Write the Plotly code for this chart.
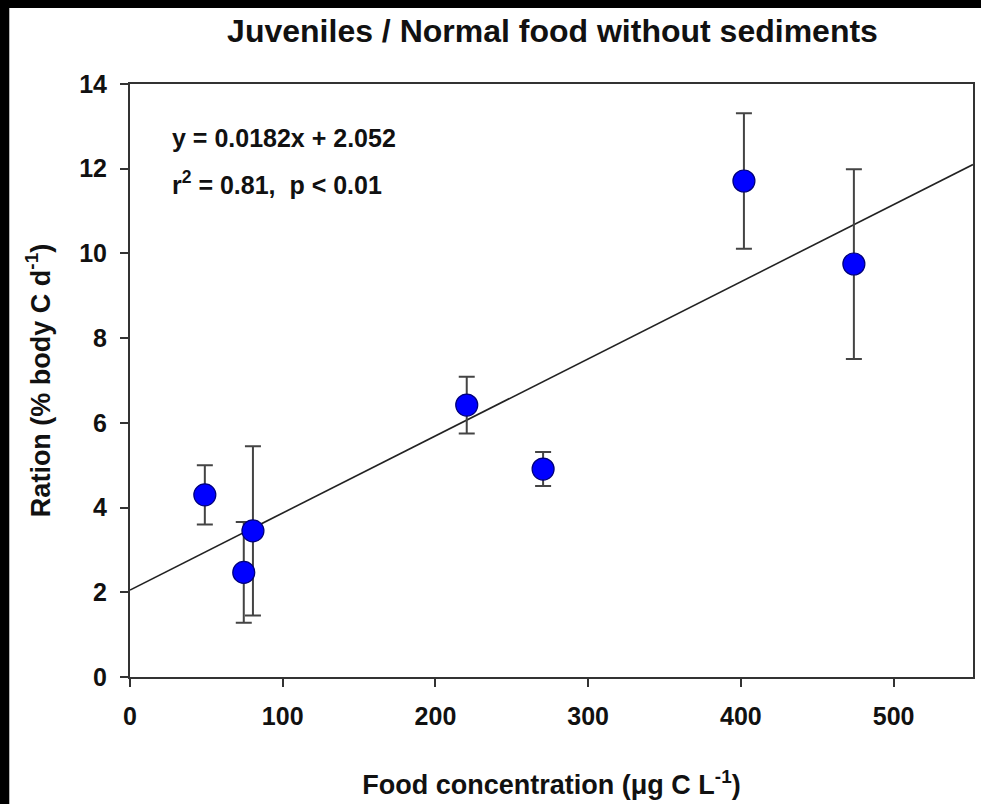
import plotly.graph_objects as go

# Mean ration at each food concentration, with error bars
food_conc = [49, 74.5, 80.5, 220.5, 270.5, 402, 474]
ration = [4.30, 2.47, 3.45, 6.42, 4.91, 11.71, 9.75]
ration_err = [0.70, 1.19, 2.00, 0.67, 0.40, 1.60, 2.24]

# Linear regression reported for the data
slope = 0.0182
intercept = 2.052
x_max = 552

fit_x = [0, x_max]
fit_y = [intercept + slope * v for v in fit_x]

FONT = "Liberation Sans, Arial, sans-serif"
INK = "#111111"

fig = go.Figure()

fig.add_trace(go.Scatter(
    x=fit_x, y=fit_y, mode="lines",
    line=dict(color="#222222", width=1.6),
    hoverinfo="skip", showlegend=False,
))

fig.add_trace(go.Scatter(
    x=food_conc, y=ration, mode="markers",
    marker=dict(size=22, color="#0000ff", line=dict(color="#00007a", width=1.2)),
    error_y=dict(type="data", array=ration_err, visible=True,
                 color="#444444", thickness=2, width=8),
    showlegend=False,
))

axis_common = dict(
    showline=True, linecolor="#333333", linewidth=2, mirror=True,
    ticks="outside", ticklen=8, tickwidth=1.5, tickcolor="#333333",
    showgrid=False, zeroline=False,
    tickfont=dict(family=FONT, size=25, color=INK, weight="bold"),
)

fig.update_xaxes(
    range=[0, x_max], tickvals=[0, 100, 200, 300, 400, 500],
    ticklabelstandoff=8,
    title=dict(text="Food concentration (μg C L<sup>-1</sup>)",
               font=dict(family=FONT, size=27, color=INK, weight="bold"),
               standoff=46),
    **axis_common,
)
fig.update_yaxes(
    range=[0, 14], tickvals=[0, 2, 4, 6, 8, 10, 12, 14],
    ticklabelstandoff=8,
    title=dict(text="Ration (% body C d<sup>-1</sup>)",
               font=dict(family=FONT, size=27, color=INK, weight="bold"),
               standoff=21),
    **axis_common,
)

# Regression equation and statistics, one annotation per line
stats_lines = ["y = 0.0182x + 2.052", "r<sup>2</sup> = 0.81,  p < 0.01"]
stats_y = [1 - (138 - 84) / 593, 1 - (183 - 84) / 593]
for line_text, ypos in zip(stats_lines, stats_y):
    fig.add_annotation(
        xref="paper", yref="paper", x=(170 - 130) / 845, y=ypos,
        xanchor="left", yanchor="middle", align="left", showarrow=False,
        text=line_text,
        font=dict(family=FONT, size=25, color=INK, weight="bold"),
    )

# Dark frame strips along the left and top edges of the page
fig.add_shape(type="rect", xref="paper", yref="paper", layer="above",
              x0=-0.16, x1=-(130 - 9) / 845, y0=-0.3, y1=1.2,
              fillcolor="black", line=dict(width=0))
fig.add_shape(type="rect", xref="paper", yref="paper", layer="above",
              x0=-0.16, x1=1.02, y0=(677 - 8) / 593, y1=1.2,
              fillcolor="black", line=dict(width=0))

fig.update_layout(
    width=981, height=804,
    margin=dict(l=130, r=6, t=84, b=127),
    paper_bgcolor="white", plot_bgcolor="white",
    title=dict(text="Juveniles / Normal food without sediments",
               x=(130 + 975) / 2 / 981, xanchor="center", y=1 - 31 / 804, yanchor="middle",
               font=dict(family=FONT, size=32, color=INK, weight="bold")),
)

fig.write_html("out.html")
